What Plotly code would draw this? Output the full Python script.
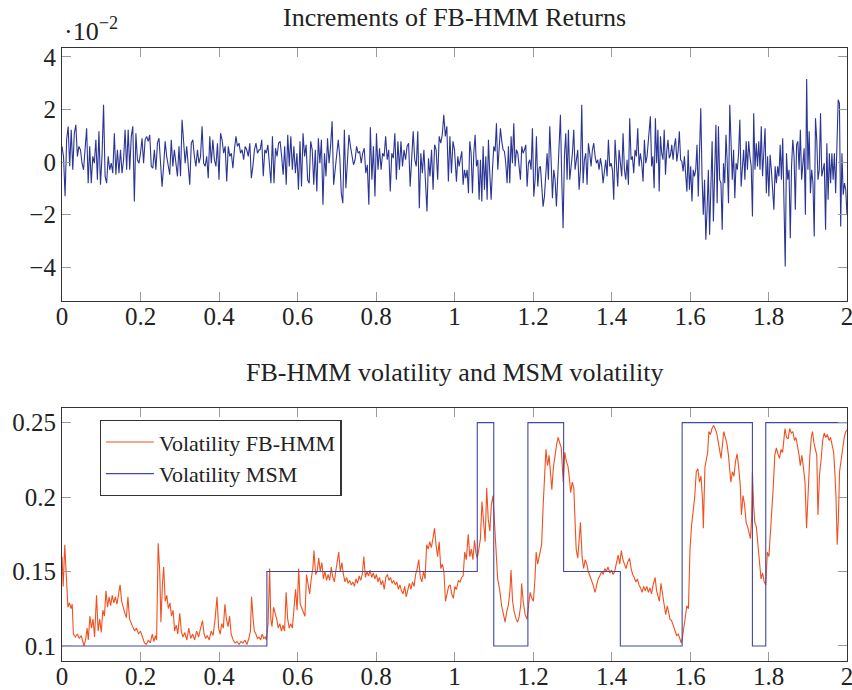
import numpy as np
import plotly.graph_objects as go

# ---------------- data ----------------
# Increments of FB-HMM returns (values in units of 1e-2), read in four time segments
ret_seg1 = [0.6, 0.2, -1.3, 0.85, 1.35, -0.16, 1.23, -0.29, 1.1, 1.42, 0.22, 0.6, 0.47, -0.04, -0.29, 0.6, 1.29, -0.8, 0.6, -0.8,
            0.22, -0.04, 0.85, -0.67, 1.17, -0.86, 0.22, 2.18, -0.54, -0.8, 0.22, -0.29, -0.04, -0.42, 1.1, -0.48, 0.47, -0.42, 0.47, -0.42,
            0.09, 1.23, -0.29, 1.23, -0.29, 0.98, 1.36, -1.5, 1.1, 0.09, -0.04, 0.34, 0.91, -0.04, 0.85, 0.98, 0.79, 1.04, -0.16, -0.23,
            0.47, -0.29, 0.72, 0.91, -0.29, -0.93, -0.16, 0.79, 0.22, -0.16, -0.48, 0.85, -0.16, 0.47, -0.04, -0.54, 0.6, -0.54, 1.61, 0.72,
            -0.04, 0.6, -0.16, -0.86, 0.72, 0.85, 0.22, -0.16, 0.47, -0.04, 0.22, 1.36, -0.04, -0.16, 0.22, -0.61, 0.98, -0.04, 0.85, 0.09,
            -0.16, 0.72, -0.67, 1.1, 0.85, 0.34, 0.6, -0.74, 0.6, 0.22, 0.34, -0.23, 0.47, 0.98, 0.6, 0.72, 0.34, 0.47, 0.09, 0.6,
            0.47, 0.22, 0.72, -0.61, -0.16, 0.47, 0.72, 0.34, 0.47]
ret_seg2 = [0.47, 0.85, -0.54, 0.47, 0.34, 0.66, -0.23, -0.8, 0.98, -0.8, 0.53, 0.22, 0.72, 0.79, 0.22, -0.48, 0.6, -0.86, 1.04, -0.16,
            0.98, -0.29, 0.6, -0.42, 0.34, -1.05, 0.79, -0.93, 1.1, 0.22, 0.66, -0.67, -0.8, 0.79, 0.47, -0.86, 0.47, -1.12, 0.91, -0.04,
            0.85, -1.62, 0.34, -0.54, 0.91, -0.04, 0.6, 1.55, -0.86, -0.29, 0.47, 0.85, 0.22, -1.18, -1.56, 1.23, -0.99, 0.22, 1.04, 0.6,
            0.22, -0.1, 0.09, 0.6, 0.34, 0.41, -0.04, 0.34, 0.53, -0.42, -0.1, -1.62, 1.33, -0.67, 0.6, -1.31, 1.1, -0.29, 0.53, -0.29,
            0.34, 0.22, 0.98, 0.09, 0.47, -1.12, 0.34, 0.15, 1.1, -0.67, 0.79, -0.29, 0.79, -0.16, 0.47, 0.09, 0.6, 0.72, -0.93, 0.34,
            1.17, 0.09, -0.16, 1.17, -1.75, 0.34, -0.42, 0.47, -1.05, -1.88, 0.15, -0.54, 0.47, -1.05, 0.66, 0.47, -0.67, 0.98, 0.72, 1.04,
            1.8, 0.98, 1.36, -0.74, 0.98, -0.42, 0.79, 0.47]
ret_seg3 = [-0.74, 0.22, -0.16, 0.09, 0.41, -0.86, -0.29, -0.61, -0.29, -1.18, 0.79, 0.34, -1.18, 0.34, 1.04, -0.16, 0.09, -1.43, 0.09, -1.5,
            0.6, -1.05, 0.22, -1.43, 0.85, -0.42, -1.43, -0.29, 0.6, 0.41, 1.48, -0.29, 0.72, 1.29, 0.79, 0.47, 0.41, -0.04, -0.8, 0.6,
            -0.8, 0.98, -0.04, 1.48, -0.16, 0.47, 0.34, -0.29, -0.67, 0.6, 0.34, 0.47, 0.66, -0.93, -0.04, 0.09, -0.29, 1.29, -1.31, -0.67,
            0.98, -0.93, -0.23, -0.16, -1.18, -1.69, -1.31, -0.29, 0.34, -0.67, 1.36, 0.09, -1.37, -0.29, -0.67, -1.69, -0.29, 0.41, 1.8, -0.67,
            -2.51, 0.22, 1.1, -0.67, 1.23, -0.67, -0.16, 0.34, 1.23, -0.29, 0.09, 0.47, -1.05, -0.29, 2.18, -0.8, 0.09, 0.34, -0.86, 0.72,
            0.34, -0.16, 0.47, 0.72, 0.22, -0.04, 0.09, -0.29, 0.15, -0.16, -0.8, -0.29, 0.09, -0.54, 0.85, -0.16, -0.04, -0.29, -1.43, 0.85,
            -0.29, -0.93, 0.47, -0.04, -0.54, 1.1, -0.29, -0.67, 0.09, -0.86, 1.67, 0.09, 0.22, -0.42, 0.47, 0.22, 1.29, -0.16, 0.34, -0.04,
            -0.74, 0.85, -0.04, 0.22, 0.91]
ret_seg4 = [1.74, -0.16, 0.22, -0.99, 1.67, -0.04, 1.23, -1.12, 0.98, 0.34, 0.09, 1.23, -0.48, 0.41, 0.85, 0.15, 0.28, 0.66, 0.09, 0.6,
            0.91, 0.03, 0.41, 1.17, 0.09, 0.03, -0.35, 0.22, -0.42, -1.12, 0.47, -1.05, -0.16, -1.5, -0.29, -0.54, -0.29, 0.66, -1.31, 0.03,
            2.05, -0.54, -2.0, -0.67, -2.95, -1.81, -0.29, -2.76, -0.42, 0.79, -2.26, -0.42, 1.42, -1.56, 1.36, -0.67, -0.8, -2.57, -0.04, -0.8,
            1.04, -0.04, -1.56, 2.18, 0.22, -0.67, 0.47, -1.37, -0.04, -0.29, 0.34, 1.61, -0.93, -0.16, 0.47, -0.67, 0.79, -0.29, 0.79, 0.22,
            -0.16, -2.07, 1.86, -0.29, 0.72, -0.16, 0.79, -0.29, 1.36, -0.54, 0.6, 1.29, -1.18, 0.22, -1.31, 0.28, -0.29, -1.31, -1.81, -0.16,
            -0.8, -0.16, -0.54, 0.66, -0.67, 0.91, -1.94, -3.97, 0.34, -0.67, -0.29, -2.89, -0.16, 0.85, 0.22, -1.81, 0.66, 0.79, -0.29, 1.23,
            -0.67, 0.09, 0.53, -2.0, 3.16, -0.29, 1.17, -1.18, -0.29, -0.8, -2.83, 1.67, 0.85, -0.67, -0.29, 1.86, -0.54, -0.29, -0.04, -2.57,
            0.72, -1.43, 0.34, -0.8, 0.34, -0.67, 0.34, -1.18, 0.47, 2.37, 2.24, -2.45, 0.34, -1.24, -0.8, -1.05, -2.0]
ret_seg_bounds = [(0.0, 0.502), (0.505, 1.0), (1.005, 1.494), (1.499, 2.0)]

# MSM volatility (step function, value holds until next breakpoint)
msm_t = [0.0, 0.522, 1.058, 1.100, 1.187, 1.278, 1.4225, 1.580, 1.759, 1.793, 2.0]
msm_v = [0.10, 0.15, 0.25, 0.10, 0.25, 0.15, 0.10, 0.25, 0.10, 0.25, 0.25]

# FB-HMM volatility
vol_t = [0.000, 0.003, 0.007, 0.011, 0.015, 0.019, 0.023, 0.026, 0.029, 0.034, 0.039, 0.044, 0.049, 0.053, 0.056, 0.060, 0.064, 0.067, 0.071, 0.075,
         0.079, 0.083, 0.088, 0.092, 0.096, 0.100, 0.104, 0.108, 0.112, 0.116, 0.120, 0.124, 0.128, 0.132, 0.136, 0.140, 0.144, 0.148, 0.152, 0.156,
         0.160, 0.164, 0.168, 0.172, 0.176, 0.180, 0.185, 0.190, 0.195, 0.200, 0.205, 0.210, 0.215, 0.220, 0.225, 0.230, 0.234, 0.238, 0.241, 0.245,
         0.249, 0.252, 0.256, 0.259, 0.263, 0.267, 0.271, 0.275, 0.279, 0.283, 0.287, 0.291, 0.295, 0.300, 0.304, 0.308, 0.313, 0.318, 0.323, 0.328,
         0.333, 0.338, 0.343, 0.348, 0.353, 0.358, 0.362, 0.366, 0.370, 0.375, 0.380, 0.385, 0.390, 0.395, 0.399, 0.403, 0.407, 0.411, 0.415, 0.419,
         0.423, 0.427, 0.431, 0.436, 0.441, 0.446, 0.451, 0.456, 0.461, 0.466, 0.471, 0.476, 0.480, 0.483, 0.487, 0.490, 0.494, 0.498, 0.502, 0.506,
         0.510, 0.514, 0.518, 0.521, 0.525, 0.529, 0.532, 0.535, 0.539, 0.543, 0.547, 0.551, 0.555, 0.559, 0.563, 0.567, 0.571, 0.575, 0.579, 0.583,
         0.587, 0.591, 0.595, 0.599, 0.603, 0.607, 0.611, 0.615, 0.619, 0.623, 0.627, 0.631, 0.635, 0.639, 0.642, 0.646, 0.650, 0.654, 0.658, 0.662,
         0.666, 0.670, 0.674, 0.678, 0.682, 0.686, 0.690, 0.694, 0.698, 0.702, 0.705, 0.709, 0.713, 0.717, 0.721, 0.725, 0.729, 0.733, 0.737, 0.741,
         0.745, 0.749, 0.753, 0.757, 0.761, 0.765, 0.769, 0.773, 0.777, 0.781, 0.785, 0.789, 0.793, 0.797, 0.801, 0.805, 0.809, 0.813, 0.817, 0.821,
         0.825, 0.829, 0.833, 0.837, 0.841, 0.845, 0.849, 0.853, 0.857, 0.861, 0.865, 0.869, 0.873, 0.877, 0.881, 0.885, 0.889, 0.893, 0.897, 0.901,
         0.905, 0.909, 0.913, 0.917, 0.921, 0.925, 0.929, 0.933, 0.937, 0.941, 0.945, 0.949, 0.953, 0.957, 0.961, 0.965, 0.969, 0.973, 0.977, 0.981,
         0.985, 0.989, 0.993, 0.997, 1.001, 1.005, 1.010, 1.014, 1.018, 1.022, 1.026, 1.030, 1.035, 1.039, 1.043, 1.047, 1.051, 1.055, 1.058, 1.062,
         1.066, 1.070, 1.074, 1.078, 1.082, 1.086, 1.090, 1.094, 1.098, 1.102, 1.106, 1.110, 1.115, 1.120, 1.125, 1.129, 1.133, 1.137, 1.141, 1.144,
         1.148, 1.152, 1.157, 1.161, 1.165, 1.169, 1.171, 1.175, 1.180, 1.185, 1.189, 1.193, 1.197, 1.201, 1.205, 1.208, 1.212, 1.216, 1.222, 1.226,
         1.230, 1.233, 1.237, 1.241, 1.245, 1.248, 1.252, 1.256, 1.260, 1.264, 1.268, 1.272, 1.277, 1.281, 1.285, 1.289, 1.293, 1.296, 1.300, 1.304,
         1.307, 1.310, 1.314, 1.317, 1.321, 1.325, 1.329, 1.333, 1.337, 1.341, 1.345, 1.349, 1.353, 1.358, 1.362, 1.366, 1.370, 1.375, 1.379, 1.383,
         1.387, 1.391, 1.396, 1.400, 1.404, 1.408, 1.412, 1.417, 1.421, 1.425, 1.429, 1.433, 1.437, 1.441, 1.446, 1.450, 1.454, 1.458, 1.462, 1.466,
         1.470, 1.474, 1.478, 1.482, 1.486, 1.490, 1.494, 1.498, 1.502, 1.506, 1.511, 1.515, 1.519, 1.522, 1.526, 1.530, 1.534, 1.538, 1.542, 1.546,
         1.549, 1.553, 1.557, 1.561, 1.566, 1.570, 1.574, 1.578, 1.581, 1.585, 1.589, 1.592, 1.596, 1.600, 1.604, 1.608, 1.612, 1.616, 1.620, 1.624,
         1.628, 1.632, 1.634, 1.638, 1.642, 1.645, 1.648, 1.652, 1.656, 1.660, 1.664, 1.668, 1.672, 1.676, 1.679, 1.683, 1.686, 1.690, 1.694, 1.698,
         1.701, 1.704, 1.708, 1.712, 1.716, 1.720, 1.724, 1.728, 1.731, 1.735, 1.739, 1.743, 1.747, 1.751, 1.754, 1.757, 1.759, 1.762, 1.765, 1.769,
         1.773, 1.777, 1.781, 1.785, 1.789, 1.793, 1.797, 1.801, 1.805, 1.808, 1.812, 1.816, 1.820, 1.824, 1.828, 1.832, 1.836, 1.839, 1.842, 1.846,
         1.850, 1.854, 1.858, 1.862, 1.866, 1.870, 1.874, 1.878, 1.881, 1.885, 1.889, 1.893, 1.897, 1.901, 1.905, 1.909, 1.912, 1.916, 1.920, 1.923,
         1.926, 1.930, 1.934, 1.938, 1.942, 1.946, 1.950, 1.954, 1.958, 1.962, 1.966, 1.969, 1.972, 1.975, 1.978, 1.981, 1.985, 1.989, 1.993, 1.997,
         2.000]
vol_v = [0.160, 0.140, 0.168, 0.145, 0.126, 0.129, 0.125, 0.128, 0.108, 0.106, 0.108, 0.105, 0.107, 0.103, 0.100, 0.104, 0.112, 0.104, 0.120, 0.112,
         0.118, 0.106, 0.134, 0.110, 0.118, 0.109, 0.124, 0.120, 0.137, 0.126, 0.133, 0.127, 0.134, 0.129, 0.133, 0.128, 0.136, 0.141, 0.130, 0.125,
         0.122, 0.119, 0.133, 0.118, 0.116, 0.113, 0.110, 0.112, 0.108, 0.110, 0.106, 0.102, 0.101, 0.104, 0.102, 0.108, 0.103, 0.107, 0.104, 0.169,
         0.150, 0.116, 0.142, 0.153, 0.130, 0.134, 0.125, 0.129, 0.120, 0.124, 0.110, 0.114, 0.108, 0.122, 0.110, 0.106, 0.109, 0.104, 0.112, 0.105,
         0.108, 0.104, 0.110, 0.106, 0.112, 0.117, 0.108, 0.105, 0.107, 0.104, 0.110, 0.107, 0.118, 0.133, 0.112, 0.108, 0.115, 0.112, 0.128, 0.118,
         0.113, 0.120, 0.108, 0.104, 0.102, 0.103, 0.101, 0.103, 0.102, 0.104, 0.101, 0.105, 0.110, 0.133, 0.118, 0.110, 0.108, 0.105, 0.106, 0.104,
         0.108, 0.105, 0.106, 0.104, 0.115, 0.152, 0.118, 0.113, 0.126, 0.122, 0.118, 0.112, 0.115, 0.110, 0.114, 0.110, 0.136, 0.118, 0.112, 0.115,
         0.112, 0.125, 0.138, 0.124, 0.152, 0.128, 0.125, 0.122, 0.120, 0.148, 0.140, 0.135, 0.145, 0.152, 0.164, 0.148, 0.150, 0.159, 0.150, 0.156,
         0.145, 0.150, 0.144, 0.148, 0.144, 0.153, 0.146, 0.143, 0.151, 0.157, 0.163, 0.150, 0.156, 0.148, 0.143, 0.146, 0.142, 0.144, 0.141, 0.143,
         0.140, 0.145, 0.142, 0.147, 0.144, 0.148, 0.160, 0.146, 0.150, 0.147, 0.151, 0.146, 0.149, 0.145, 0.148, 0.143, 0.146, 0.141, 0.144, 0.138,
         0.146, 0.148, 0.144, 0.146, 0.142, 0.144, 0.141, 0.143, 0.138, 0.141, 0.137, 0.135, 0.140, 0.133, 0.137, 0.142, 0.138, 0.143, 0.140, 0.148,
         0.152, 0.158, 0.146, 0.143, 0.150, 0.145, 0.168, 0.165, 0.170, 0.166, 0.172, 0.179, 0.168, 0.160, 0.170, 0.152, 0.155, 0.150, 0.130, 0.136,
         0.140, 0.141, 0.135, 0.132, 0.140, 0.138, 0.144, 0.143, 0.146, 0.147, 0.163, 0.158, 0.175, 0.160, 0.165, 0.158, 0.171, 0.162, 0.159, 0.165,
         0.172, 0.197, 0.180, 0.170, 0.206, 0.185, 0.177, 0.195, 0.201, 0.179, 0.165, 0.145, 0.138, 0.127, 0.121, 0.116, 0.123, 0.127, 0.136, 0.151,
         0.130, 0.123, 0.118, 0.116, 0.120, 0.128, 0.142, 0.130, 0.121, 0.118, 0.128, 0.136, 0.132, 0.130, 0.145, 0.163, 0.155, 0.160, 0.168, 0.195,
         0.220, 0.232, 0.221, 0.228, 0.215, 0.205, 0.220, 0.228, 0.235, 0.240, 0.236, 0.233, 0.210, 0.230, 0.224, 0.221, 0.212, 0.203, 0.210, 0.206,
         0.185, 0.165, 0.159, 0.168, 0.183, 0.160, 0.152, 0.158, 0.155, 0.150, 0.147, 0.145, 0.141, 0.136, 0.141, 0.145, 0.147, 0.150, 0.148, 0.152,
         0.150, 0.153, 0.149, 0.151, 0.148, 0.150, 0.155, 0.161, 0.155, 0.164, 0.158, 0.155, 0.152, 0.156, 0.159, 0.152, 0.148, 0.146, 0.143, 0.145,
         0.141, 0.139, 0.136, 0.140, 0.137, 0.140, 0.136, 0.139, 0.135, 0.141, 0.146, 0.137, 0.132, 0.130, 0.142, 0.133, 0.128, 0.121, 0.127, 0.122,
         0.118, 0.117, 0.114, 0.111, 0.107, 0.108, 0.105, 0.102, 0.106, 0.114, 0.122, 0.127, 0.125, 0.165, 0.181, 0.190, 0.200, 0.217, 0.219, 0.210,
         0.214, 0.198, 0.179, 0.220, 0.226, 0.230, 0.244, 0.242, 0.246, 0.248, 0.246, 0.243, 0.237, 0.232, 0.226, 0.236, 0.244, 0.240, 0.236, 0.228,
         0.220, 0.210, 0.217, 0.214, 0.224, 0.229, 0.220, 0.208, 0.188, 0.201, 0.195, 0.183, 0.180, 0.176, 0.172, 0.186, 0.217, 0.195, 0.183, 0.180,
         0.168, 0.160, 0.145, 0.149, 0.143, 0.141, 0.163, 0.160, 0.175, 0.190, 0.206, 0.228, 0.233, 0.229, 0.226, 0.232, 0.230, 0.238, 0.246, 0.240,
         0.239, 0.246, 0.243, 0.244, 0.238, 0.240, 0.235, 0.228, 0.221, 0.228, 0.220, 0.210, 0.179, 0.208, 0.226, 0.240, 0.244, 0.236, 0.232, 0.228,
         0.188, 0.215, 0.225, 0.238, 0.243, 0.240, 0.242, 0.238, 0.240, 0.234, 0.230, 0.217, 0.200, 0.168, 0.185, 0.217, 0.225, 0.230, 0.240, 0.244,
         0.245]

x_ticks = [0, 0.2, 0.4, 0.6, 0.8, 1, 1.2, 1.4, 1.6, 1.8, 2]
x_tick_labels = ["0", "0.2", "0.4", "0.6", "0.8", "1", "1.2", "1.4", "1.6", "1.8", "2"]
top_y_ticks = [-4, -2, 0, 2, 4]
bot_y_ticks = [0.10, 0.15, 0.20, 0.25]
bot_y_labels = ["0.1", "0.15", "0.2", "0.25"]

# ---------------- figure ----------------
FONT = "Liberation Serif"
BLUE = "#2B3593"
MSM_BLUE = "#3F48A8"
ORANGE = "#F2501E"
TXT = "#222222"

ret_t, ret_v = [], []
for seg, (a, b) in zip([ret_seg1, ret_seg2, ret_seg3, ret_seg4], ret_seg_bounds):
    ret_t.extend(np.linspace(a, b, len(seg)).tolist())
    ret_v.extend(seg)

fig = go.Figure()
fig.add_trace(go.Scatter(x=ret_t, y=ret_v, mode="lines", line=dict(color=BLUE, width=1.1),
                         showlegend=False, xaxis="x", yaxis="y"))
fig.add_trace(go.Scatter(x=vol_t, y=vol_v, mode="lines", line=dict(color=ORANGE, width=1.1),
                         name="Volatility FB-HMM", xaxis="x2", yaxis="y2"))
fig.add_trace(go.Scatter(x=msm_t, y=msm_v, mode="lines", line=dict(color=MSM_BLUE, width=1.1, shape="hv"),
                         name="Volatility MSM", xaxis="x2", yaxis="y2"))

axis_common = dict(showline=True, linecolor="#333333", linewidth=1.2, mirror="ticks",
                   ticks="inside", ticklen=9, tickcolor="#9a9a9a", tickwidth=1.2, automargin=False,
                   ticklabeloverflow="allow",
                   showgrid=False, zeroline=False, tickfont=dict(family=FONT, size=25, color=TXT))

M_T, M_B = 48, 29
plot_h = 690 - M_T - M_B
def py_to_paper(py):
    return (690 - M_B - py) / plot_h

fig.update_layout(
    width=852, height=690,
    margin=dict(l=62, r=5, t=M_T, b=M_B),
    paper_bgcolor="white", plot_bgcolor="white",
    font=dict(family=FONT, color=TXT),
    xaxis=dict(domain=[0, 1], range=[0, 2], anchor="y", tickvals=x_ticks, ticktext=x_tick_labels,
               ticklabelstandoff=-7, **axis_common),
    yaxis=dict(domain=[py_to_paper(301), 1], range=[-5.28, 4.34], anchor="x", tickvals=top_y_ticks, **axis_common),
    xaxis2=dict(domain=[0, 1], range=[0, 2], anchor="y2", tickvals=x_ticks, ticktext=x_tick_labels,
                ticklabelstandoff=-7, **axis_common),
    yaxis2=dict(domain=[0, py_to_paper(408)], range=[0.0899, 0.2598], anchor="x2", tickvals=bot_y_ticks, ticktext=bot_y_labels, **axis_common),
    legend=dict(x=0.048, y=py_to_paper(420), xanchor="left", yanchor="top", bgcolor="white",
                bordercolor="#333333", borderwidth=1.2, font=dict(family=FONT, size=22, color=TXT),
                tracegroupgap=0, itemwidth=48),
    annotations=[
        dict(text="Increments of FB-HMM Returns", x=0.5, xref="paper", y=py_to_paper(17), yref="paper", showarrow=False,
             font=dict(family=FONT, size=26, color=TXT), xanchor="center", yanchor="middle"),
        dict(text="FB-HMM volatility and MSM volatility", x=0.5, xref="paper", y=py_to_paper(373), yref="paper", showarrow=False,
             font=dict(family=FONT, size=26, color=TXT), xanchor="center", yanchor="middle"),
        dict(text="·10<sup>−2</sup>", x=0.0, xref="paper", y=1.0, yref="paper", showarrow=False,
             font=dict(family=FONT, size=26, color=TXT), xanchor="left", yanchor="bottom", yshift=0),
    ],
)

fig.write_html("out.html")
